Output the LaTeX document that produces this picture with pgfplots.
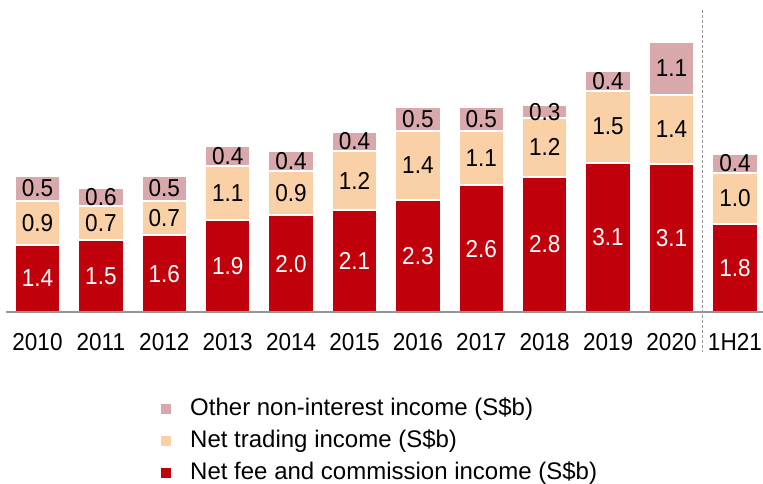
\documentclass[border=0pt]{standalone}
\usepackage{fontspec}
\setmainfont{Liberation Sans}
\newfontfamily\narrowfont{Liberation Sans}[FakeStretch=0.92]
\usepackage{pgfplots}
\pgfplotsset{compat=1.18}
\usepackage{pgfplotstable}
\definecolor{cfee}{RGB}{192,0,11}
\definecolor{ctrade}{RGB}{250,208,166}
\definecolor{cother}{RGB}{217,168,170}
\definecolor{caxis}{RGB}{150,150,150}
\newcommand\cf{\narrowfont\fontsize{24.5bp}{28bp}\selectfont}
\newcommand\lf{\fontsize{24bp}{28bp}\selectfont}
\pgfplotstableread{
x v l
0 1.39 1.4
1 1.49 1.5
2 1.59 1.6
3 1.90 1.9
4 2.01 2.0
5 2.11 2.1
6 2.33 2.3
7 2.63 2.6
8 2.81 2.8
9 3.10 3.1
10 3.08 3.1
11 1.82 1.8
}\fee
\pgfplotstableread{
x v l
0 0.92 0.9
1 0.71 0.7
2 0.72 0.7
3 1.13 1.1
4 0.92 0.9
5 1.23 1.2
6 1.42 1.4
7 1.12 1.1
8 1.21 1.2
9 1.49 1.5
10 1.43 1.4
11 1.07 1.0
}\trade
\pgfplotstableread{
x v l
0 0.52 0.5
1 0.37 0.6
2 0.52 0.5
3 0.41 0.4
4 0.41 0.4
5 0.40 0.4
6 0.51 0.5
7 0.51 0.5
8 0.27 0.3
9 0.41 0.4
10 1.09 1.1
11 0.39 0.4
}\other
\pgfplotsset{legsq/.style={legend image code/.code={\fill[##1, draw=none] (0bp,-5bp) rectangle (10bp,5bp);}}}
\begin{document}
\begin{tikzpicture}
\begin{axis}[
  x=63.4bp, y=48.2bp,
  xmin=-0.497, xmax=11.443, ymin=0, ymax=6.37,
  ybar stacked, bar width=45.5bp,
  axis x line=bottom, axis y line=none,
  x axis line style={-, draw=caxis, line width=1.5bp},
  xtick={0,...,11},
  xticklabels={2010,2011,2012,2013,2014,2015,2016,2017,2018,2019,2020,1H21},
  major tick length=0pt,
  xticklabel style={inner sep=0pt, anchor=north, yshift=-21bp, font=\cf},
  clip=false,
  axis on top,
  point meta=explicit symbolic,
  nodes near coords,
  every node near coord/.append style={anchor=center, inner sep=0pt, font=\cf},
  reverse legend,
  legend cell align=left,
  legend style={at={(0.2048,-0.280)}, anchor=north west, draw=none, fill=none,
    inner sep=0pt, row sep=10bp, column sep=19bp, font=\lf,
    nodes={inner sep=0pt, text height=17bp, text depth=5bp}},
]
\addplot[fill=cfee, draw=white, line width=2bp, legsq, every node near coord/.append style={text=white}] table[x=x, y=v, meta=l] {\fee};
\addlegendentry{Net fee and commission income (S\$b)}
\addplot[fill=ctrade, draw=white, line width=2bp, legsq, every node near coord/.append style={text=black}] table[x=x, y=v, meta=l] {\trade};
\addlegendentry{Net trading income (S\$b)}
\addplot[fill=cother, draw=white, line width=2bp, legsq, every node near coord/.append style={text=black}] table[x=x, y=v, meta=l] {\other};
\addlegendentry{Other non-interest income (S\$b)}
\draw[caxis, line width=0.8bp, dash pattern=on 3bp off 2bp] (axis cs:10.49,6.27) -- (axis cs:10.49,-0.83);
\coordinate (BL) at (axis cs:-0.5915,-3.548);
\coordinate (TR) at (axis cs:11.443,6.473);
\end{axis}
\pgfresetboundingbox
\useasboundingbox (BL) rectangle (TR);
\end{tikzpicture}
\end{document}
